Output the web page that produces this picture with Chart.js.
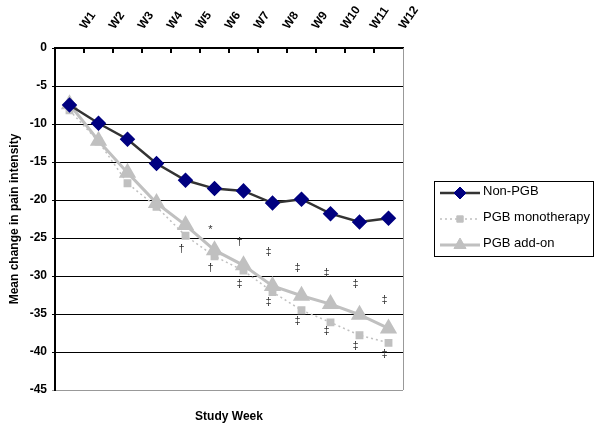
<!DOCTYPE html>
<html>
<head>
<meta charset="utf-8">
<script src="https://cdn.jsdelivr.net/npm/chart.js@4/dist/chart.umd.min.js"></script>
<style>
  html, body { margin: 0; padding: 0; background: #fff; }
  #wrap { width: 600px; height: 433px; }
</style>
</head>
<body>
<div id="wrap"><canvas id="painChart" width="600" height="433"></canvas></div>
<script>
const weeks = ['W1', 'W2', 'W3', 'W4', 'W5', 'W6', 'W7', 'W8', 'W9', 'W10', 'W11', 'W12'];
const nonPgb = [-7.5, -9.9, -12.0, -15.2, -17.4, -18.5, -18.8, -20.4, -19.9, -21.8, -22.9, -22.4];
const pgbMono = [-8.2, -12.3, -17.8, -20.9, -24.7, -27.4, -29.3, -32.1, -34.5, -36.1, -37.8, -38.8];
const pgbAddOn = [-7.4, -12.2, -16.4, -20.4, -23.3, -26.6, -28.6, -31.3, -32.6, -33.7, -35.1, -36.9];
const yTicks = [0, -5, -10, -15, -20, -25, -30, -35, -40, -45];

// significance marks next to the points
const markSymbols = ['†', '*', '†', '†', '‡', '‡', '‡', '‡', '‡', '‡', '‡', '‡', '‡', '‡', '‡'];
const markWeeks = ['W5', 'W6', 'W6', 'W7', 'W7', 'W8', 'W8', 'W9', 'W9', 'W10', 'W10', 'W11', 'W11', 'W12', 'W12'];
const markValues = [-26.4, -23.9, -28.9, -25.5, -31.0, -26.9, -33.4, -29.0, -35.9, -29.6, -37.2, -31.1, -39.2, -33.2, -40.3];

const FONT = '"Liberation Sans", Arial, sans-serif';

const frame = {
    id: 'frame',
    beforeDatasetsDraw(chart) {
        const { ctx, chartArea: a, scales } = chart;
        ctx.save();
        // right edge of the plot
        ctx.strokeStyle = '#999';
        ctx.lineWidth = 1;
        ctx.beginPath();
        ctx.moveTo(Math.round(a.right) + 0.5, a.top);
        ctx.lineTo(Math.round(a.right) + 0.5, a.bottom);
        ctx.stroke();
        // small tick marks pointing down from the 0 line
        const x = scales.x;
        const step = x.getPixelForValue(1) - x.getPixelForValue(0);
        ctx.strokeStyle = '#000';
        ctx.lineWidth = 2;
        for (let i = 1; i < weeks.length; i++) {
            const px = Math.round(x.getPixelForValue(i) - step / 2);
            ctx.beginPath();
            ctx.moveTo(px, a.top);
            ctx.lineTo(px, a.top + 5);
            ctx.stroke();
        }
        ctx.restore();
    },
    afterDatasetsDraw(chart) {
        const { ctx, scales } = chart;
        ctx.save();
        ctx.fillStyle = '#333';
        ctx.font = '11px ' + FONT;
        ctx.textAlign = 'center';
        ctx.textBaseline = 'middle';
        markSymbols.forEach((s, i) => {
            const px = scales.x.getPixelForValue(weeks.indexOf(markWeeks[i])) - 4;
            const py = scales.y.getPixelForValue(markValues[i]);
            ctx.fillText(s, px, py);
        });
        ctx.restore();
    }
};

const boxLegend = {
    id: 'boxLegend',
    afterDraw(chart) {
        const { ctx, chartArea: a } = chart;
        const left = a.right + 31;
        const width = 159;
        const height = 75;
        const top = Math.round((a.top + a.bottom) / 2 - height / 2) - 1;
        ctx.save();
        ctx.strokeStyle = '#000';
        ctx.lineWidth = 1;
        ctx.strokeRect(left + 0.5, top + 0.5, width, height);
        chart.data.datasets.forEach((ds, i) => {
            const y = top + 12 + i * 26;
            ctx.save();
            ctx.strokeStyle = ds.borderColor;
            ctx.lineWidth = ds.borderWidth;
            ctx.setLineDash(ds.borderDash || []);
            ctx.beginPath();
            ctx.moveTo(left + 6, y);
            ctx.lineTo(left + 46, y);
            ctx.stroke();
            ctx.restore();
            ctx.fillStyle = ds.pointBackgroundColor;
            ctx.strokeStyle = ds.pointBorderColor;
            ctx.lineWidth = 1;
            Chart.helpers.drawPoint(ctx, { pointStyle: ds.pointStyle, radius: ds.pointRadius, borderWidth: 1 }, left + 26, y);
            ctx.fillStyle = '#000';
            ctx.font = '13px ' + FONT;
            ctx.textAlign = 'left';
            ctx.textBaseline = 'middle';
            ctx.fillText(ds.label, left + 49, y - 2);
        });
        ctx.restore();
    }
};

new Chart(document.getElementById('painChart'), {
    type: 'line',
    data: {
        labels: weeks,
        datasets: [
            {
                label: 'Non-PGB',
                data: nonPgb,
                borderColor: '#333333',
                borderWidth: 2.5,
                pointStyle: 'rectRot',
                pointRadius: 6,
                pointBackgroundColor: '#000080',
                pointBorderColor: '#000080',
                order: 0
            },
            {
                label: 'PGB monotherapy',
                data: pgbMono,
                borderColor: '#c0c0c0',
                borderWidth: 1.5,
                borderDash: [2, 3],
                pointStyle: 'rect',
                pointRadius: 4.5,
                pointBackgroundColor: '#c0c0c0',
                pointBorderColor: '#c0c0c0',
                order: 2
            },
            {
                label: 'PGB add-on',
                data: pgbAddOn,
                borderColor: '#c0c0c0',
                borderWidth: 3,
                pointStyle: 'triangle',
                pointRadius: 7,
                pointBackgroundColor: '#c0c0c0',
                pointBorderColor: '#c0c0c0',
                order: 1
            }
        ]
    },
    options: {
        responsive: false,
        animation: false,
        layout: { padding: { left: 0, right: 197, top: 0, bottom: 0 } },
        plugins: { legend: { display: false }, tooltip: { enabled: false } },
        elements: { line: { tension: 0 } },
        scales: {
            x: {
                position: 'top',
                offset: true,
                grid: { display: false, drawTicks: false },
                border: { display: true, color: '#000', width: 2 },
                ticks: {
                    minRotation: 55,
                    maxRotation: 55,
                    padding: 16,
                    labelOffset: 25,
                    color: '#000',
                    font: { family: FONT, size: 12, weight: 'bold' }
                },
                afterFit: s => { s.height = 48; }
            },
            x2: {
                position: 'bottom',
                labels: weeks,
                grid: { display: false, drawTicks: false },
                border: { display: false },
                ticks: { display: false },
                title: {
                    display: true,
                    text: 'Study Week',
                    color: '#000',
                    padding: { top: 0, bottom: 9 },
                    font: { family: FONT, size: 12, weight: 'bold' }
                },
                afterFit: s => { s.height = 43; }
            },
            y: {
                min: -45,
                max: 0,
                afterBuildTicks: s => { s.ticks = yTicks.map(v => ({ value: v })); },
                grid: {
                    color: c => (c.tick && c.tick.value === -45 ? '#999' : '#000'),
                    lineWidth: 1,
                    tickLength: 3
                },
                border: { display: true, color: '#000', width: 2 },
                ticks: {
                    padding: 5,
                    color: '#000',
                    font: { family: FONT, size: 12, weight: 'bold' }
                },
                title: {
                    display: true,
                    text: 'Mean change in pain intensity',
                    color: '#000',
                    padding: { top: 7, bottom: 0 },
                    font: { family: FONT, size: 12, weight: 'bold' }
                },
                afterFit: s => { s.width = 55; }
            }
        }
    },
    plugins: [frame, boxLegend]
});
</script>
</body>
</html>
